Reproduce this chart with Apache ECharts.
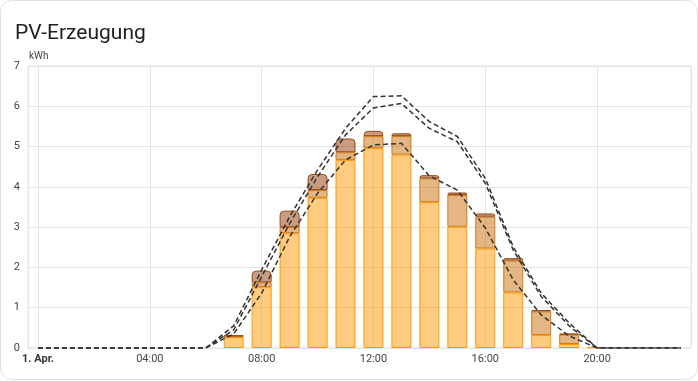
<!DOCTYPE html>
<html>
<head>
<meta charset="utf-8">
<script src="https://cdn.jsdelivr.net/npm/echarts@6/dist/echarts.min.js"></script>
<style>
  html, body { margin: 0; padding: 0; background: #ffffff; }
  #card { position: absolute; left: 0; top: 0; width: 696px; height: 378px; border: 1px solid #e0e0e0; border-radius: 12px; background: #fff; overflow: hidden; }
  #chart { position: absolute; left: -1px; top: -1px; width: 698px; height: 381px; }
</style>
</head>
<body>
<div id="card"><div id="chart"></div></div>
<script>
// Hours of 1 April (bar / point positions)
const hours = [0,1,2,3,4,5,6,7,8,9,10,11,12,13,14,15,16,17,18,19,20,21,22,23];
// Stacked PV production per source (kWh)
const pvSource1 = [null,null,null,null,null,null,null,0.27,1.51,2.85,3.73,4.67,4.96,4.80,3.62,3.01,2.47,1.38,0.32,0.10,0.02,null,null,null];
const pvSource2 = [null,null,null,null,null,null,null,0.02,0.12,0.15,0.19,0.19,0.30,0.46,0.59,0.79,0.79,0.79,0.59,0.23,null,null,null,null];
const pvSource3 = [null,null,null,null,null,null,null,0.03,0.29,0.41,0.40,0.34,0.13,0.07,0.08,0.06,0.08,0.06,0.03,0.03,null,null,null,null];
// Forecast lines (kWh)
const forecastA = [0,0,0,0,0,0,0,0.55,1.94,3.26,4.42,5.45,6.24,6.26,5.62,5.25,4.21,2.51,1.36,0.62,0,0,0,0];
const forecastB = [0,0,0,0,0,0,0,0.45,1.77,3.09,4.25,5.29,5.96,6.07,5.45,5.12,4.09,2.43,1.28,0.55,0,0,0,0];
const forecastC = [0,0,0,0,0,0,0,0.35,1.36,2.76,3.84,4.67,5.04,5.08,4.27,3.92,2.98,1.69,0.82,0.30,0,0,0,0];
const yTicks = [0,1,2,3,4,5,6,7];

const HOUR = 3600 * 1000;
const day0 = new Date(2025, 3, 1, 0, 0, 0).getTime();
const t = h => day0 + h * HOUR;
const pair = arr => hours.map((h, i) => [t(h), arr[i]]);

const chart = echarts.init(document.getElementById('chart'), null, { renderer: 'canvas' });

const barBase = { type: 'bar', stack: 'pv', barWidth: 20, z: 2 };
const lineBase = {
  type: 'line', symbol: 'none', smooth: false, z: 5,
  lineStyle: { color: '#333333', width: 1.5, type: [5, 3] }
};

chart.setOption({
  animation: false,
  textStyle: { fontFamily: 'Roboto, sans-serif' },
  title: {
    text: 'PV-Erzeugung', left: 10, top: 18,
    textStyle: { fontSize: 21, fontWeight: 400, color: '#212121', fontFamily: 'Roboto, sans-serif' }
  },
  grid: {
    left: 28, right: 7, top: 66, bottom: 33,
    show: true, borderColor: '#e4e4e4', borderWidth: 1, backgroundColor: 'transparent'
  },
  xAxis: {
    type: 'time',
    min: t(0), max: t(23),
    minInterval: 4 * HOUR, maxInterval: 4 * HOUR,
    axisLine: { show: false },
    axisTick: { show: false },
    splitLine: { show: true, lineStyle: { color: '#e4e4e4', width: 1 } },
    axisLabel: {
      margin: 6, fontSize: 11, color: '#444',
      hideOverlap: false,
      formatter: function (v) {
        const d = new Date(v);
        const hh = d.getHours(), mm = d.getMinutes();
        if (mm !== 0 || hh % 4 !== 0) return '';
        if (hh === 0) return '{b|1. Apr.}';
        return String(hh).padStart(2, '0') + ':00';
      },
      rich: { b: { fontWeight: 'bold', fontSize: 11, color: '#333' } }
    }
  },
  yAxis: {
    type: 'value', min: 0, max: 7, interval: 1,
    name: 'kWh', nameLocation: 'end', nameGap: 5,
    nameTextStyle: { align: 'left', fontSize: 10, color: '#444', padding: [0, 0, 0, 1] },
    axisLine: { show: false },
    axisTick: { show: false },
    splitLine: { lineStyle: { color: '#e4e4e4', width: 1 } },
    axisLabel: { margin: 8, fontSize: 11, color: '#444', formatter: v => yTicks.includes(v) ? String(v) : '' }
  },
  series: [
    Object.assign({}, barBase, {
      name: 'PV 1', data: pair(pvSource1),
      itemStyle: { color: 'rgba(255,152,0,0.5)', borderColor: '#ff9800', borderWidth: 1 }
    }),
    Object.assign({}, barBase, {
      name: 'PV 2', data: pair(pvSource2),
      itemStyle: { color: 'rgba(200,110,10,0.5)', borderColor: '#d07a10', borderWidth: 1 }
    }),
    Object.assign({}, barBase, {
      name: 'PV 3', data: pair(pvSource3),
      itemStyle: { color: 'rgba(145,60,5,0.5)', borderColor: '#9a4a12', borderWidth: 1, borderRadius: [4, 4, 0, 0] }
    }),
    Object.assign({}, lineBase, { name: 'Prognose A', data: pair(forecastA) }),
    Object.assign({}, lineBase, { name: 'Prognose B', data: pair(forecastB) }),
    Object.assign({}, lineBase, { name: 'Prognose C', data: pair(forecastC) })
  ]
});
</script>
</body>
</html>
